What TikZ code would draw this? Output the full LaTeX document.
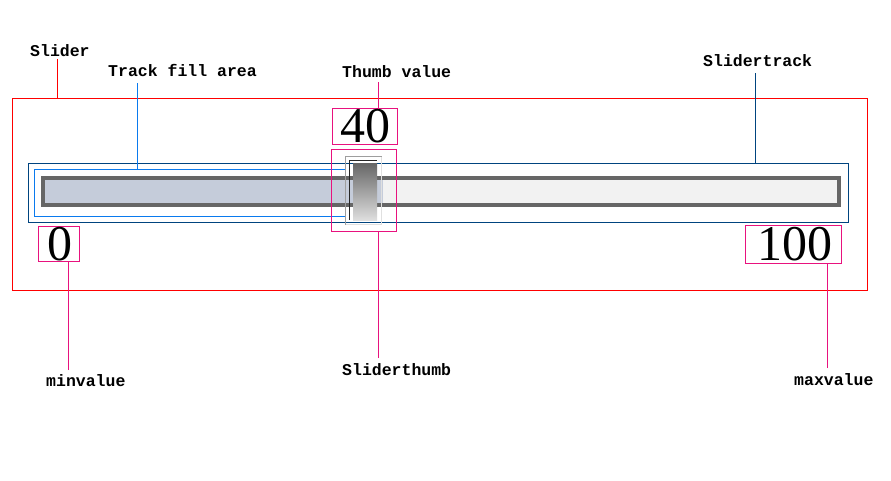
\documentclass[tikz,border=0pt]{standalone}
\usepackage{fontspec}
\newfontfamily\lblfont{Liberation Mono}
\newfontfamily\digfont{Liberation Serif}
\definecolor{sred}{HTML}{FF0000}
\definecolor{spink}{HTML}{E8127E}
\definecolor{sblue}{HTML}{0A7AEE}
\definecolor{sdark}{HTML}{00447F}
\definecolor{sgray}{HTML}{666666}
\definecolor{sfill}{HTML}{C5CCDA}
\definecolor{strack}{HTML}{F2F2F2}
\usetikzlibrary{calc}
\begin{document}
\begin{tikzpicture}[x=1pt,y=-1pt,
  lbl/.style={anchor=base west,inner sep=0pt,font=\lblfont\bfseries\fontsize{16.5}{18}\selectfont},
  dig/.style={anchor=base,inner sep=0pt,font=\digfont\fontsize{50}{50}\selectfont},
  boxn/.style={anchor=north west,inner sep=0pt,outer sep=0pt,line width=1pt},
  lead/.style={line width=1pt}]
\useasboundingbox[fill=white] (0,0) rectangle (891,480);
% outer slider box
\node[boxn,draw=sred,minimum width=855,minimum height=192] (slider) at (12.5,98.5) {};
% track box
\node[boxn,draw=sdark,minimum width=820,minimum height=59] (track) at (28.5,163.5) {};
% fill box
\node[boxn,draw=sblue,minimum width=311,minimum height=47] (fillbox) at (34.5,169.5) {};
% track bar
\fill[sfill] (45,180) rectangle (383,203);
\fill[strack] (383,180) rectangle (837,203);
\node[boxn,draw=sgray,line width=4pt,minimum width=796,minimum height=27] (bar) at (43,178) {};
% thumb
\node[boxn,draw=spink,minimum width=65,minimum height=82] (thumbbox) at (331.5,149.5) {};
\node[boxn,minimum width=36,minimum height=68] (thumb) at (345.5,156.5) {};
\draw[line width=1pt,color=black!12] (thumb.north east) -- (thumb.south east) -- (thumb.south west);
\draw[line width=1pt,color=black!38] (thumb.south west) -- (thumb.north west) -- (thumb.north east);
\node[boxn,minimum width=24,minimum height=57,top color=sgray,bottom color=black!13] (grip) at (353,163) {};
\draw[line width=1pt,black!85] ([xshift=-3.5pt]grip.south west) -- ([xshift=-3.5pt,yshift=2.5pt]grip.north west) -- ([yshift=2.5pt]grip.north east);
% value boxes
\node[boxn,draw=spink,minimum width=65,minimum height=36] (valbox) at (332.5,108.5) {};
\node[boxn,draw=spink,minimum width=41,minimum height=35] (minbox) at (38.5,226.5) {};
\node[boxn,draw=spink,minimum width=96,minimum height=38] (maxbox) at (745.5,225.5) {};
\node[dig] (val) at (365,142.5) {40};
\node[dig] (minv) at (59.5,260) {0};
\node[dig] (maxv) at (795,260.5) {100};
% labels
\node[lbl] (lSlider) at (30,56.5) {Slider};
\node[lbl] (lFill) at (108,76) {Track fill area};
\node[lbl] (lThumbVal) at (342,77) {Thumb value};
\node[lbl] (lTrack) at (703,66.5) {Slidertrack};
\node[lbl] (lMin) at (46,386) {minvalue};
\node[lbl] (lThumb) at (342,375) {Sliderthumb};
\node[lbl] (lMax) at (794,385.5) {maxvalue};
% leader ends
\coordinate (cSlider) at (57.5,59);
\coordinate (cFill) at (137.5,83);
\coordinate (cThumbVal) at (378.5,82);
\coordinate (cTrack) at (755.5,73);
\coordinate (cMin) at (68.5,370);
\coordinate (cThumb) at (378.5,358);
\coordinate (cMax) at (827.5,368);
\draw[lead,sred] (cSlider) -- (cSlider |- slider.north);
\draw[lead,sblue] (cFill) -- (cFill |- fillbox.north);
\draw[lead,spink] (cThumbVal) -- (cThumbVal |- valbox.north);
\draw[lead,sdark] (cTrack) -- (cTrack |- track.north);
\draw[lead,spink] (cMin) -- (cMin |- minbox.south);
\draw[lead,spink] (cThumb) -- (cThumb |- thumbbox.south);
\draw[lead,spink] (cMax) -- (cMax |- maxbox.south);
\end{tikzpicture}
\end{document}
